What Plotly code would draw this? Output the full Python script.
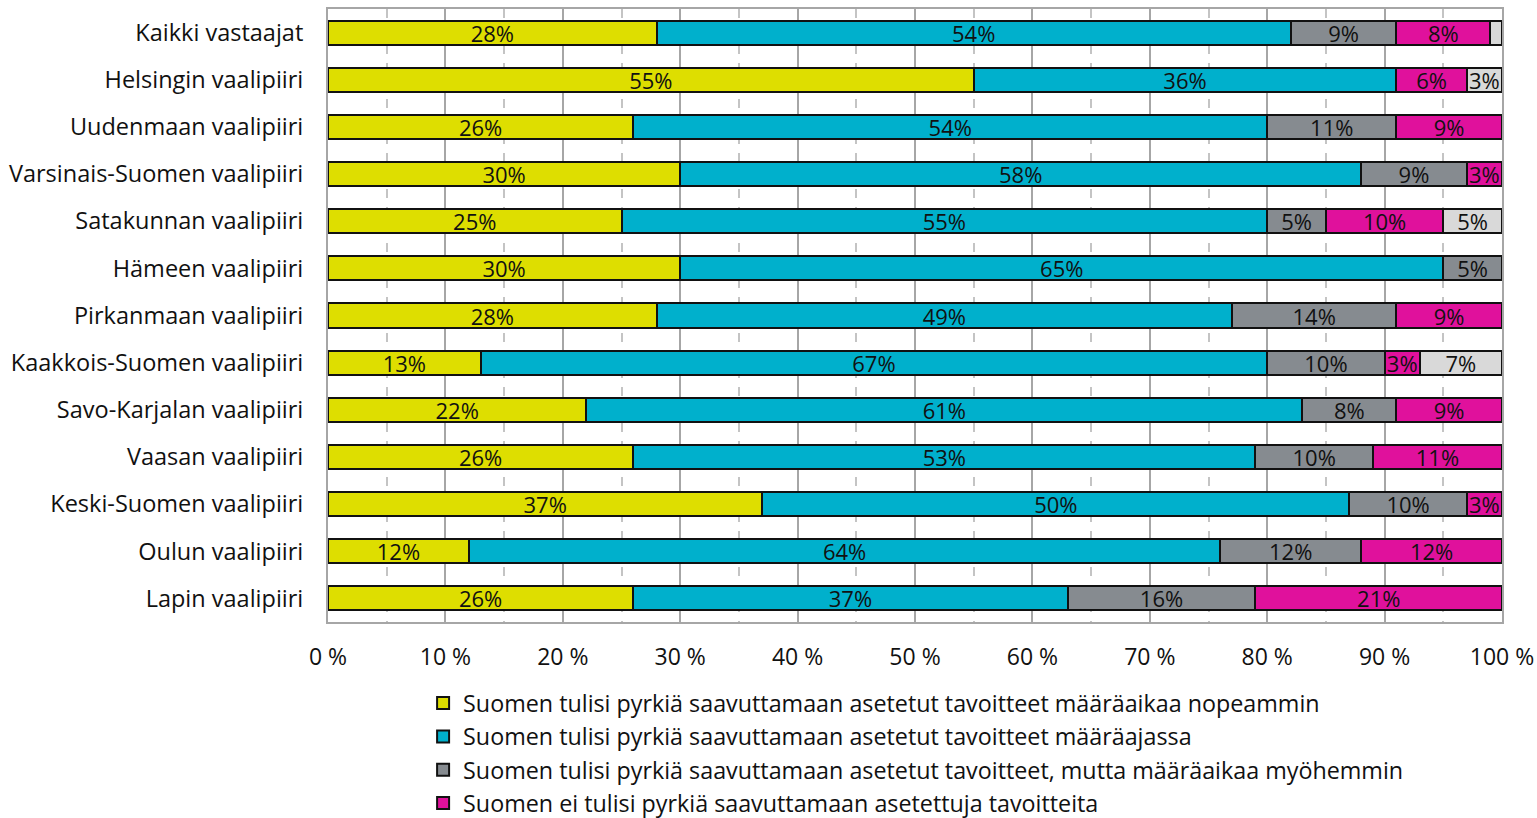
import plotly.graph_objects as go

categories = [
    "Kaikki vastaajat",
    "Helsingin vaalipiiri",
    "Uudenmaan vaalipiiri",
    "Varsinais-Suomen vaalipiiri",
    "Satakunnan vaalipiiri",
    "Hämeen vaalipiiri",
    "Pirkanmaan vaalipiiri",
    "Kaakkois-Suomen vaalipiiri",
    "Savo-Karjalan vaalipiiri",
    "Vaasan vaalipiiri",
    "Keski-Suomen vaalipiiri",
    "Oulun vaalipiiri",
    "Lapin vaalipiiri",
]

series_names = [
    "Suomen tulisi pyrkiä saavuttamaan asetetut tavoitteet määräaikaa nopeammin",
    "Suomen tulisi pyrkiä saavuttamaan asetetut tavoitteet määräajassa",
    "Suomen tulisi pyrkiä saavuttamaan asetetut tavoitteet, mutta määräaikaa myöhemmin",
    "Suomen ei tulisi pyrkiä saavuttamaan asetettuja tavoitteita",
    "En osaa sanoa",
]

faster = [28, 55, 26, 30, 25, 30, 28, 13, 22, 26, 37, 12, 26]
on_time = [54, 36, 54, 58, 55, 65, 49, 67, 61, 53, 50, 64, 37]
later = [9, 0, 11, 9, 5, 5, 14, 10, 8, 10, 10, 12, 16]
not_at_all = [8, 6, 9, 3, 10, 0, 9, 3, 9, 11, 3, 12, 21]
dont_know = [1, 3, 0, 0, 5, 0, 0, 7, 0, 0, 0, 0, 0]

tick_vals = [0, 10, 20, 30, 40, 50, 60, 70, 80, 90, 100]
tick_text = ["0 %", "10 %", "20 %", "30 %", "40 %", "50 %", "60 %", "70 %", "80 %", "90 %", "100 %"]

colors = ["#dede00", "#00b0cc", "#868b90", "#e0119c", "#d9d9d9"]
all_series = [faster, on_time, later, not_at_all, dont_know]
show_in_legend = [True, True, True, True, False]

FONT = "Open Sans"

fig = go.Figure()
for i, (name, vals, col, sl) in enumerate(zip(series_names, all_series, colors, show_in_legend)):
    texts = [f"{v}%" if v >= 2 else "" for v in vals]
    fig.add_trace(go.Bar(
        y=categories,
        x=vals,
        name=name,
        legendgroup=f"g{i}",
        orientation="h",
        marker=dict(color=col, line=dict(color="#111111", width=2)),
        text=texts,
        textposition="inside",
        insidetextanchor="middle",
        textangle=0,
        textfont=dict(family=FONT, size=22, color="#111111"),
        showlegend=sl,
        hoverinfo="skip",
    ))

fig.update_layout(
    barmode="stack",
    bargap=0.49,
    width=1537,
    height=818,
    margin=dict(l=328, r=35, t=9, b=196, autoexpand=False),
    paper_bgcolor="white",
    plot_bgcolor="white",
    font=dict(family=FONT, size=22, color="#111111"),
    uniformtext=dict(minsize=22, mode="show"),
    legend=dict(
        x=0.081, y=-0.097, xanchor="left", yanchor="top",
        orientation="v",
        traceorder="normal",
        font=dict(family=FONT, size=23.3, color="#111111"),
        itemwidth=30,
        tracegroupgap=1,
        bgcolor="rgba(0,0,0,0)",
    ),
    xaxis=dict(
        range=[0, 100],
        tickvals=tick_vals,
        ticktext=tick_text,
        showgrid=True,
        gridcolor="#a6a6a6",
        gridwidth=2,
        zeroline=False,
        showline=True,
        linecolor="#a6a6a6",
        linewidth=2,
        mirror=True,
        ticks="",
        ticklabelstandoff=13,
        tickfont=dict(family=FONT, size=23, color="#111111"),
        minor=dict(dtick=5, tick0=0, showgrid=True, gridcolor="#c4c4c4", griddash="dash", gridwidth=2),
        fixedrange=True,
    ),
    yaxis=dict(
        categoryorder="array",
        categoryarray=categories,
        autorange="reversed",
        showgrid=False,
        showline=True,
        linecolor="#a6a6a6",
        linewidth=2,
        mirror=True,
        ticks="",
        ticklabelstandoff=18,
        tickfont=dict(family=FONT, size=23.5, color="#111111"),
        fixedrange=True,
    ),
)

fig.write_html(
    "out.html",
    config={"displayModeBar": False},
    post_script="document.body.style.margin='0';document.body.style.overflow='hidden';",
)
